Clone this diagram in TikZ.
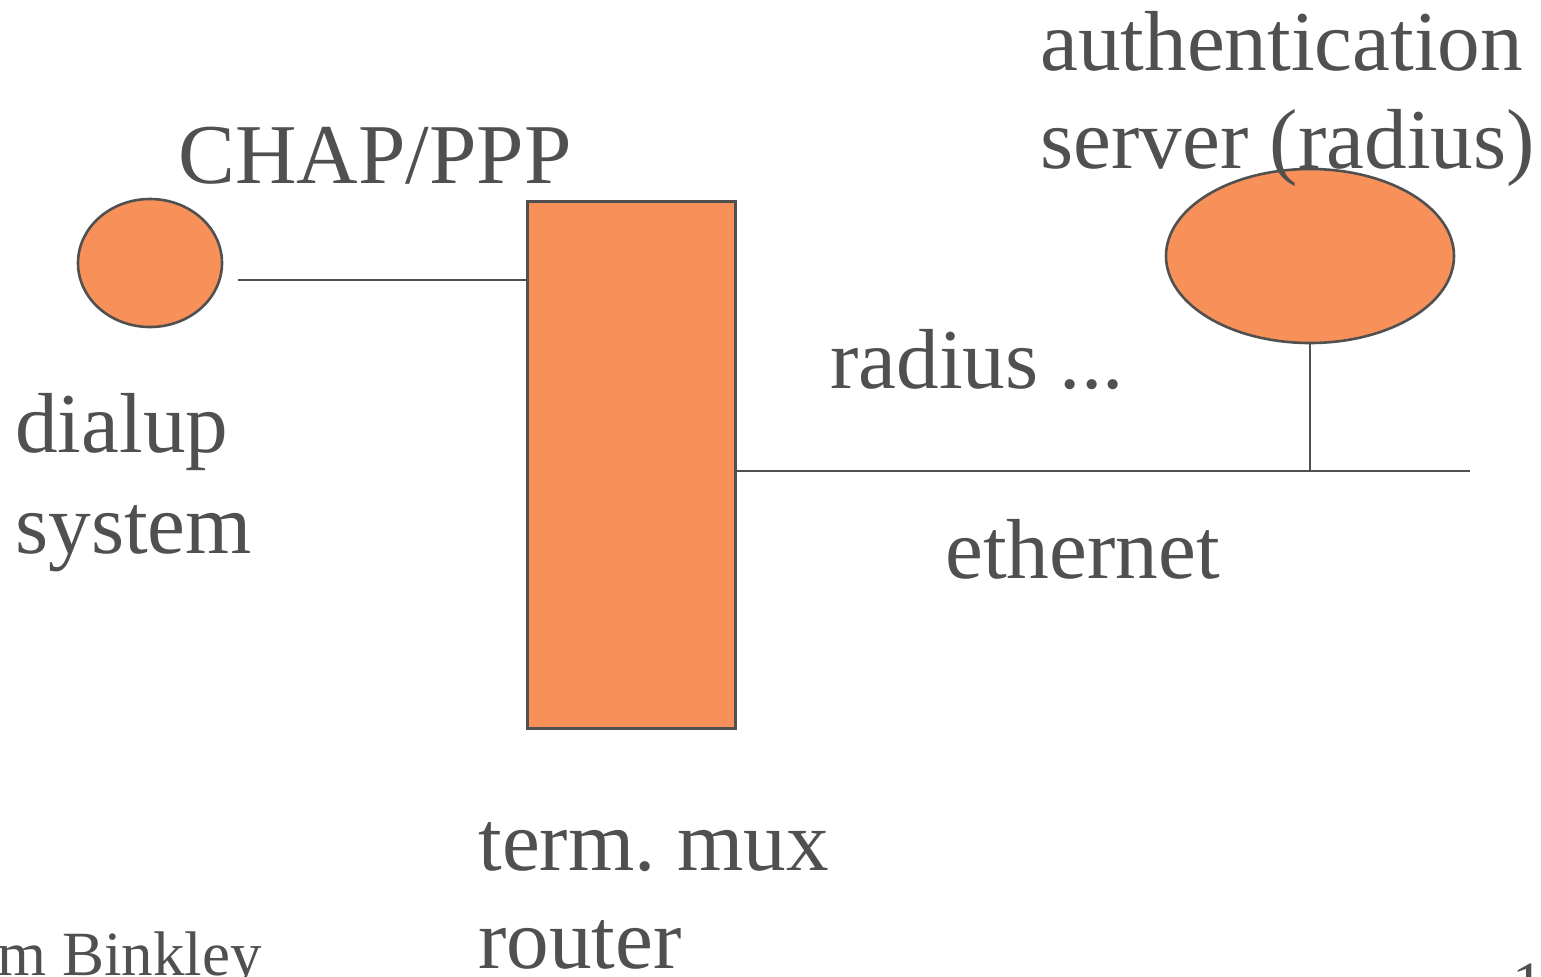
\documentclass[tikz,border=0pt]{standalone}
\usepackage{fontspec}
\setmainfont{Liberation Serif}
\usetikzlibrary{shapes.geometric}
\definecolor{txt}{HTML}{505050}
\definecolor{orng}{HTML}{F79059}
\definecolor{edge}{HTML}{505050}
\frenchspacing
\begin{document}
\begin{tikzpicture}[x=0.5pt,y=-0.5pt,
  lbl/.style={anchor=base west,inner sep=0pt,text=txt,font=\fontsize{42.6}{52}\selectfont},
  foot/.style={anchor=base west,inner sep=0pt,text=txt,font=\fontsize{31.5}{38}\selectfont},
  shp/.style={fill=orng,draw=edge,line width=1.3pt},
  wire/.style={draw=edge,line width=1.2pt}]
\useasboundingbox (0,0) rectangle (1541,976);
\node[shp,ellipse,minimum width=72pt,minimum height=64pt,inner sep=0pt] (dial) at (150,263) {};
\node[shp,rectangle,minimum width=104pt,minimum height=263.5pt,inner sep=0pt,anchor=north west] (mux) at (526,200) {};
\node[shp,ellipse,minimum width=144pt,minimum height=87pt,inner sep=0pt] (auth) at (1310,256) {};
\coordinate (w1) at (238,280);
\coordinate (m1) at (526,280);
\coordinate (m2) at (734,471);
\coordinate (eend) at (1470,471);
\coordinate (tap) at (1310,471);
\draw[wire] (w1) -- (m1);
\draw[wire] (m2) -- (eend);
\draw[wire] (auth.south) -- (tap);
\node[lbl] (t1) at (1040,70) {authentication};
\node[lbl] (t2) at (1040,168) {server (radius)};
\node[lbl] (t3) at (178,183) {CHAP/PPP};
\node[lbl] (t4) at (830,388) {radius ...};
\node[lbl] (t5) at (15,452) {dialup};
\node[lbl] (t6) at (15,553) {system};
\node[lbl] (t7) at (945,578) {ethernet};
\node[lbl] (t8) at (478,870) {term. mux};
\node[lbl] (t9) at (478,968) {router};
\node[foot] (f1) at (-3,975) {m Binkley};
\node[foot] (f2) at (1512,1005) {1};
\end{tikzpicture}
\end{document}
